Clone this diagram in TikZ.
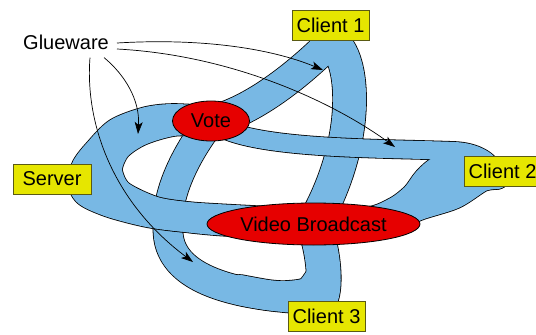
\documentclass[tikz,border=0pt]{standalone}
\usepackage{fontspec}
\setmainfont{Liberation Sans}
\usetikzlibrary{shapes.geometric,arrows.meta,calc}
\definecolor{bandblue}{RGB}{120,184,228}
\definecolor{nodered}{RGB}{230,0,0}
\definecolor{boxyellow}{RGB}{230,230,0}
\definecolor{boxedge}{RGB}{90,90,20}
\pgfdeclarelayer{bg}
\pgfsetlayers{bg,main}
\begin{document}
\begin{tikzpicture}[x=1pt,y=-1pt,
  bk/.style={draw=black,line width=#1+1.6pt,line cap=round,line join=round},
  bl/.style={draw=bandblue,line width=#1,line cap=round,line join=round},
  srv/.style={ellipse,draw=black,line width=0.8pt,fill=nodered,inner sep=0pt,font=\fontsize{20}{24}\selectfont},
  cli/.style={rectangle,draw=boxedge,line width=0.8pt,fill=boxyellow,inner sep=0pt,minimum width=77pt,minimum height=30pt,font=\fontsize{20}{24}\selectfont},
  gluearrow/.style={-{Stealth[length=12pt,width=8pt,inset=3pt]},line width=0.7pt}]
\useasboundingbox (0,0) rectangle (536,335);
% nodes
\node[srv,minimum width=77pt,minimum height=40pt] (vote) at (211,121) {Vote};
\node[srv,minimum width=213pt,minimum height=42pt] (vb) at (313.5,224) {Video Broadcast};
\node[cli] (c1) at (330.5,25) {Client 1};
\node[cli] (c2) at (502.5,171) {Client 2};
\node[cli] (c3) at (326.5,316.5) {Client 3};
\node[cli,minimum width=78pt] (server) at (52,179) {Server};
\node[font=\fontsize{20}{24}\selectfont,inner sep=4pt] (glue) at (66,42) {Glueware};
% turning points of the bands (at the boxes)
\coordinate (c1T) at (331,42);
\coordinate (c2T) at (496,174);
\coordinate (c3T) at (320,300);
\begin{pgfonlayer}{bg}
% band Vote - Client 1 - Video Broadcast
\draw[bk=30pt] (vote.center) .. controls (250,112) and (295,78) .. (c1T);
\draw[bk=33pt] (c1T) .. controls (355,55) and (362,140) .. (vb.center);
\draw[bl=30pt] (vote.center) .. controls (250,112) and (295,78) .. (c1T);
\draw[bl=33pt] (c1T) .. controls (355,55) and (362,140) .. (vb.center);
% band Vote - Client 2 - Video Broadcast
\draw[bk=18pt] (vote.center) .. controls (240,150) and (380,148) .. (455,151) .. controls (475,152) and (490,160) .. (c2T);
\draw[bk=30pt] plot[smooth] coordinates {(c2T) (480,177) (453,194) (416,206) (385,221) (vb.center)};
\draw[bk=30pt] plot[smooth] coordinates {(c2T) (465,168) (442,170) (428,181) (416,197) (398,211) (370,222) (vb.center)};
\draw[bl=18pt] (vote.center) .. controls (240,150) and (380,148) .. (455,151) .. controls (475,152) and (490,160) .. (c2T);
\draw[bl=30pt] plot[smooth] coordinates {(c2T) (480,177) (453,194) (416,206) (385,221) (vb.center)};
\draw[bl=30pt] plot[smooth] coordinates {(c2T) (465,168) (442,170) (428,181) (416,197) (398,211) (370,222) (vb.center)};
% band Vote - Client 3 - Video Broadcast
\draw[bk=29pt] (vote.center) .. controls (185,155) and (165,195) .. (168,232) .. controls (170,285) and (250,297) .. (c3T);
\draw[bk=30pt] plot[smooth] coordinates {(240,290) (268,295) (287,296) (309,292) (322,275)};
\draw[bk=34pt] (c3T) .. controls (328,285) and (322,245) .. (vb.center);
\draw[bl=29pt] (vote.center) .. controls (185,155) and (165,195) .. (168,232) .. controls (170,285) and (250,297) .. (c3T);
\draw[bl=30pt] plot[smooth] coordinates {(240,290) (268,295) (287,296) (309,292) (322,275)};
\draw[bl=34pt] (c3T) .. controls (328,285) and (322,245) .. (vb.center);
% band Vote - Server - Video Broadcast
\draw[bk=30pt] plot[smooth] coordinates {(vote.center) (173,119) (147,122) (118,133) (98,153) (87,167) (83,180) (86,190) (95,196) (116,204) (153,213) (200,218) (vb.center)};
\draw[bk=30pt] plot[smooth] coordinates {(vote.center) (173,121) (139,131) (116,147) (107,170) (118,194) (152,211) (186,217) (229,221) (vb.center)};
\draw[bl=30pt] plot[smooth] coordinates {(vote.center) (173,119) (147,122) (118,133) (98,153) (87,167) (83,180) (86,190) (95,196) (116,204) (153,213) (200,218) (vb.center)};
\draw[bl=30pt] plot[smooth] coordinates {(vote.center) (173,121) (139,131) (116,147) (107,170) (118,194) (152,211) (186,217) (229,221) (vb.center)};
\end{pgfonlayer}
% Glueware arrows
\coordinate (a1) at (323,70);
\coordinate (a2) at (395,147);
\coordinate (a3) at (138,134);
\coordinate (a4) at (193,262);
\draw[gluearrow] ($(glue.east)+(4,1)$) .. controls (200,38) and (270,48) .. (a1);
\draw[gluearrow] ($(glue.east)+(4,7)$) .. controls (230,55) and (330,100) .. (a2);
\draw[gluearrow] ($(glue.south)+(38,4)$) .. controls (125,75) and (140,100) .. (a3);
\draw[gluearrow] ($(glue.south)+(24,4)$) .. controls (85,120) and (110,200) .. (a4);
\end{tikzpicture}
\end{document}
